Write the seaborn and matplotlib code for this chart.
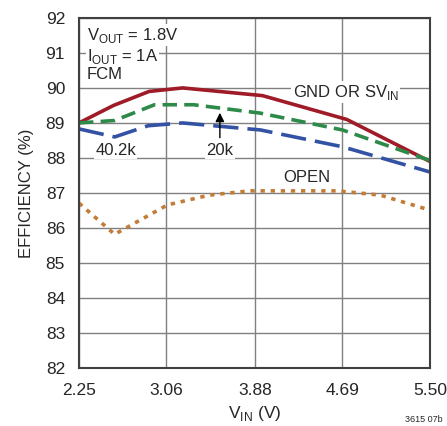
import pandas as pd
import seaborn as sns
import matplotlib.pyplot as plt

# Datos
vin_gnd = [2.25, 2.57, 2.90, 3.21, 3.95, 4.73, 5.50]
eff_gnd = [89.0, 89.5, 89.9, 90.0, 89.78, 89.1, 87.9]

vin_20k = [2.25, 2.58, 2.95, 3.31, 3.93, 4.69, 5.50]
eff_20k = [89.0, 89.07, 89.52, 89.52, 89.28, 88.8, 87.93]

vin_40k = [2.25, 2.58, 2.89, 3.21, 3.93, 4.69, 5.50]
eff_40k = [88.83, 88.6, 88.92, 89.0, 88.8, 88.32, 87.6]

vin_open = [2.25, 2.58, 3.07, 3.46, 3.83, 4.64, 5.04, 5.50]
eff_open = [86.71, 85.82, 86.66, 86.94, 87.06, 87.06, 86.94, 86.51]

xticks = [2.25, 3.06, 3.88, 4.69, 5.50]
yticks = list(range(82, 93))

sns.set_style("white")
plt.rcParams['font.family'] = ['Liberation Sans', 'DejaVu Sans']

fig = plt.figure(figsize=(4.47, 4.26), dpi=100)
ax = fig.add_axes([0.1767, 0.136, 0.785, 0.822])

sns.lineplot(x=vin_gnd, y=eff_gnd, color="#9e1b27", lw=2.6, ax=ax)
sns.lineplot(x=vin_20k, y=eff_20k, color="#2e8a48", lw=2.6, ax=ax)
ax.lines[-1].set_dashes([4, 2])
sns.lineplot(x=vin_40k, y=eff_40k, color="#3352a3", lw=2.6, ax=ax)
ax.lines[-1].set_dashes([7, 2.5])
sns.lineplot(x=vin_open, y=eff_open, color="#c27c35", lw=2.6, ax=ax)
ax.lines[-1].set_dashes([1.2, 1.6])

ax.set_xlim(2.25, 5.50)
ax.set_ylim(82, 92)
ax.set_xticks(xticks)
ax.set_xticklabels(["%.2f" % v for v in xticks])
ax.set_yticks(yticks)
ax.grid(True, color="#808080", lw=1.0)
ax.set_axisbelow(True)
ax.tick_params(axis="y", length=0, labelsize=12.5, pad=10)
ax.tick_params(axis="x", length=0, labelsize=12.5, pad=11)
for s in ax.spines.values():
    s.set_color("#404040")
    s.set_linewidth(1.5)

ax.set_xlabel(r"V$_{\mathregular{IN}}$ (V)", fontsize=12.5, labelpad=4)
ax.set_ylabel("EFFICIENCY (%)", fontsize=12, labelpad=8)

box = dict(facecolor="white", edgecolor="none", pad=1)
fs = 12
ax.text(2.324, 91.51, r"V$_{\mathregular{OUT}}$ = 1.8V", fontsize=fs, va="center", bbox=box, zorder=1)
ax.text(2.324, 90.89, r"I$_{\mathregular{OUT}}$ = 1A", fontsize=fs, va="center", bbox=box, zorder=1)
ax.text(2.324, 90.37, "FCM", fontsize=fs, va="center", bbox=box, zorder=1)
ax.text(4.23, 89.88, r"GND OR SV$_{\mathregular{IN}}$", fontsize=fs, va="center", bbox=box, zorder=1)
ax.text(2.40, 88.21, "40.2k", fontsize=fs, va="center", bbox=box, zorder=1)
ax.text(3.43, 88.21, "20k", fontsize=fs, va="center", bbox=box, zorder=1)
ax.text(4.14, 87.43, "OPEN", fontsize=fs, va="center", zorder=1)
ax.annotate("", xy=(3.555, 89.37), xytext=(3.555, 88.5),
            arrowprops=dict(arrowstyle="-|>", color="black", lw=1, mutation_scale=13))

fig.text(0.99, 0.005, "3615 07b", fontsize=6.5, ha="right", va="bottom")

fig.savefig("out.png", dpi=100)
